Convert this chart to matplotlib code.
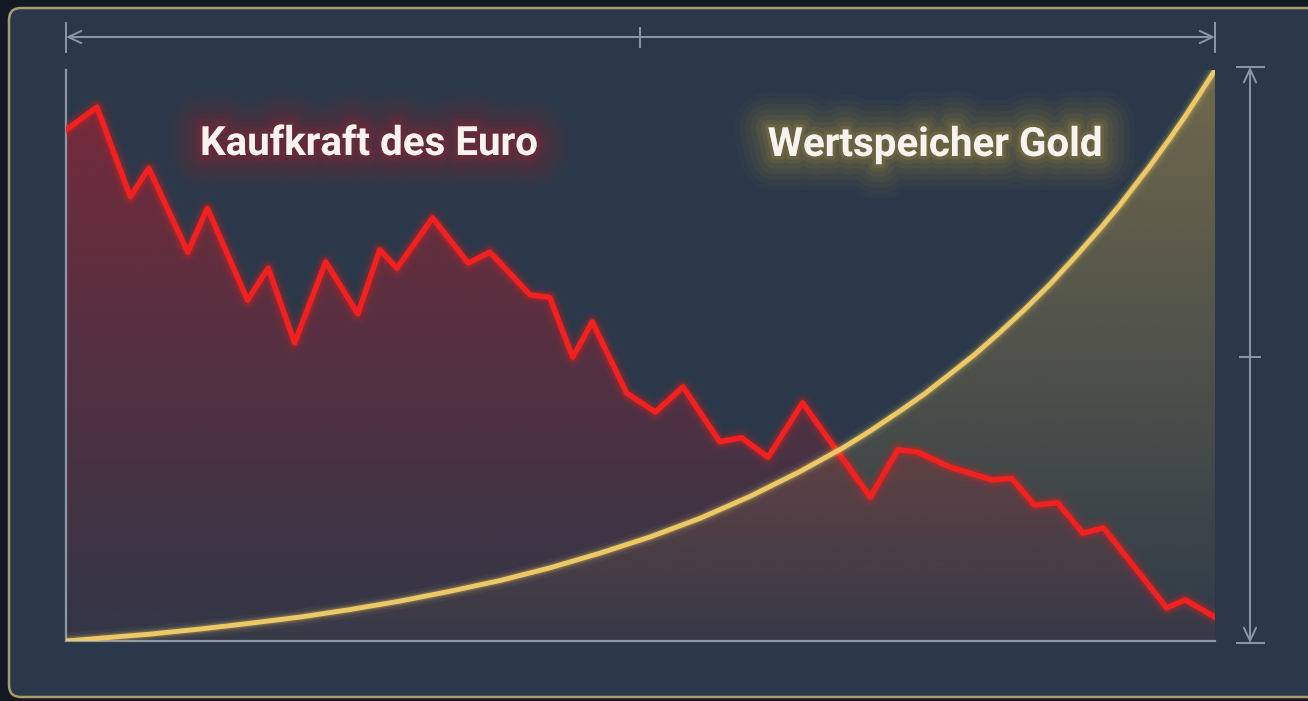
import matplotlib
matplotlib.use("Agg")
import matplotlib.pyplot as plt
import numpy as np
from matplotlib.patches import FancyBboxPatch
import matplotlib.patheffects as pe

# ---- data (x = time 0..100, y = relative value 0..100) ----
euro_x = [0, 2.7, 5.6, 7.2, 10.6, 12.3, 15.8, 17.6, 19.9, 22.6, 25.4, 27.3, 28.8, 31.9,
          35.0, 36.9, 40.4, 42.1, 44.1, 45.8, 48.8, 51.3, 53.7, 56.9, 58.8, 61.1, 64.1,
          70.0, 72.4, 74.1, 76.9, 80.6, 82.3, 84.3, 86.3, 88.5, 90.3, 95.8, 97.4, 100]
euro_y = [89.5, 93.5, 77.8, 82.8, 68.1, 75.8, 59.7, 65.3, 52.2, 66.4, 57.3, 68.5, 65.3, 74.1,
          66.2, 68.1, 60.6, 60.2, 49.7, 55.9, 43.4, 40.1, 44.5, 34.9, 35.6, 32.2, 41.7,
          25.2, 33.5, 33.1, 30.5, 28.2, 28.5, 23.8, 24.2, 18.9, 19.8, 5.8, 7.2, 4.2]

gold_x = [0, 7.3, 11.7, 16.0, 20.4, 24.7, 29.1, 33.4, 37.8, 42.1, 46.5, 50.8, 55.2, 59.5,
          63.9, 67.6, 70.0, 72.6, 74.8, 76.9, 79.1, 81.3, 83.5, 85.6, 87.8, 90.0, 91.7,
          94.3, 96.1, 97.4, 98.7, 100]
gold_y = [0, 1.2, 2.1, 3.1, 4.2, 5.5, 7.0, 8.7, 10.6, 12.8, 15.4, 18.2, 21.5, 25.3,
          29.7, 33.8, 36.8, 40.3, 43.4, 46.7, 50.2, 54.1, 58.2, 62.4, 67.2, 72.2, 76.3,
          83.1, 88.1, 91.9, 95.9, 100]

label_euro = "Kaufkraft des Euro"
label_gold = "Wertspeicher Gold"

# ---- styling ----
W, H = 1308, 701
OUTER = "#121923"
PANEL = "#2a3849"
BORDER = "#a99b6f"
GRID = "#8d97a6"
RED = "#f2201f"
GOLD = "#ecc866"

fig = plt.figure(figsize=(W / 100, H / 100), dpi=100, facecolor=OUTER)

# background / decoration layer in pixel coordinates
bg = fig.add_axes([0, 0, 1, 1])
bg.set_xlim(0, W)
bg.set_ylim(H, 0)
bg.axis("off")
bg.set_zorder(0)
bg.add_patch(FancyBboxPatch((9, 8), 1400, 689,
                            boxstyle="round,pad=0,rounding_size=12",
                            fc=PANEL, ec=BORDER, lw=1.8))

# dimension line on top
arrow_kw = dict(arrowstyle="<->,head_length=0.47,head_width=0.22", color=GRID,
                lw=1.4, shrinkA=0, shrinkB=0, mutation_scale=20)
bg.annotate("", xy=(66, 37), xytext=(1215, 37), arrowprops=arrow_kw)
bg.plot([66, 66], [23, 52], color=GRID, lw=1.4)
bg.plot([1215, 1215], [23, 52], color=GRID, lw=1.4)
bg.plot([640, 640], [28, 47], color=GRID, lw=1.4)

# dimension line on the right
bg.annotate("", xy=(1250, 67), xytext=(1250, 643), arrowprops=arrow_kw)
bg.plot([1237, 1264], [67, 67], color=GRID, lw=1.4)
bg.plot([1237, 1264], [643, 643], color=GRID, lw=1.4)
bg.plot([1240, 1260], [357, 357], color=GRID, lw=1.4)

# main chart axes
ax = fig.add_axes([66 / W, (H - 641) / H, 1149 / W, 571 / H])
ax.set_zorder(1)
ax.patch.set_alpha(0)
for s in ["top", "right"]:
    ax.spines[s].set_visible(False)
for s in ["left", "bottom"]:
    ax.spines[s].set_color(GRID)
    ax.spines[s].set_linewidth(1.6)
ax.set_xticks([])
ax.set_yticks([])


def grad_fill(x, y, rgb, a_top, a_bot, z):
    poly = ax.fill_between(x, y, 0, facecolor="none", edgecolor="none", lw=0)
    n = 256
    img = np.zeros((n, 1, 4))
    img[..., :3] = matplotlib.colors.to_rgb(rgb)
    img[..., 3] = np.linspace(a_bot, a_top, n)[:, None]
    im = ax.imshow(img, extent=[0, 100, 0, 100], origin="lower", aspect="auto",
                   zorder=z, interpolation="bicubic")
    im.set_clip_path(poly.get_paths()[0], transform=ax.transData)


grad_fill(gold_x, gold_y, "#d9b24f", 0.40, 0.03, 1)
grad_fill(euro_x, euro_y, "#d41a2a", 0.46, 0.05, 2)

def glow(c, ws):
    return [pe.Stroke(linewidth=w, foreground=c, alpha=a) for w, a in ws] + [pe.Normal()]

ax.plot(euro_x, euro_y, color=RED, lw=4.0, zorder=4, solid_joinstyle="round",
        solid_capstyle="round",
        path_effects=glow(RED, [(15, 0.05), (11, 0.08), (7.5, 0.18)]))
ax.plot(gold_x, gold_y, color=GOLD, lw=3.5, zorder=5, solid_capstyle="round",
        solid_joinstyle="round",
        path_effects=glow(GOLD, [(12, 0.05), (8, 0.10), (5.5, 0.2)]))

ax.set_xlim(0, 100)
ax.set_ylim(0, 100)

# labels with glow
def glow_text(x, y, s, c):
    effects = [pe.Stroke(linewidth=w, foreground=c, alpha=a)
               for w, a in [(50, 0.035), (42, 0.04), (34, 0.05), (26, 0.06),
                            (18, 0.08), (11, 0.10), (5, 0.15)]]
    effects.append(pe.Normal())
    bg.text(x, y, s, ha="center", va="center", fontsize=29, fontweight="bold",
            family=["Roboto", "DejaVu Sans"], color="#f7f4ef", path_effects=effects,
            zorder=10)

glow_text(369, 144, label_euro, "#b8202c")
glow_text(935, 145, label_gold, "#caa443")

fig.savefig("out.png", dpi=100, facecolor=OUTER)
